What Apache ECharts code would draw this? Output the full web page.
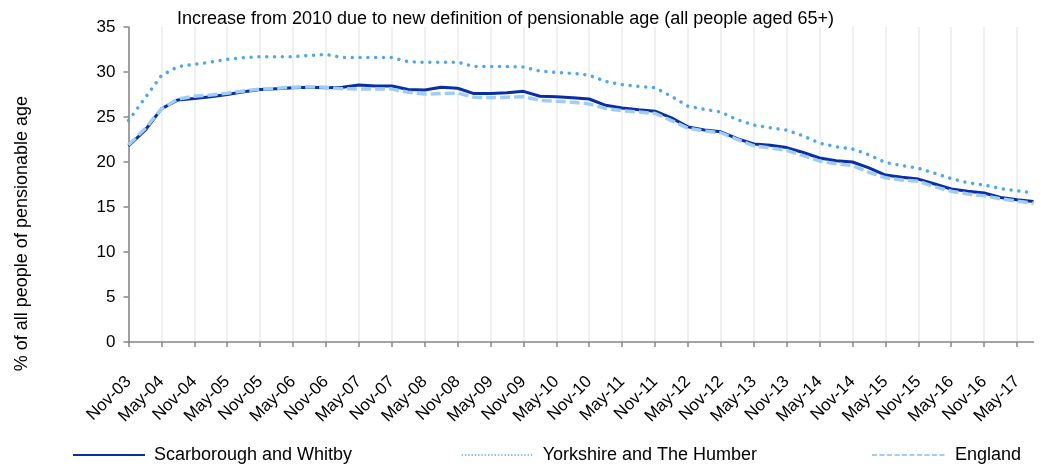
<!DOCTYPE html>
<html>
<head>
<meta charset="utf-8">
<script src="https://cdn.jsdelivr.net/npm/echarts@6/dist/echarts.min.js"></script>
<style>
html,body{margin:0;padding:0;background:#fff;}
#chart{width:1041px;height:466px;}
</style>
</head>
<body>
<div id="chart"></div>
<script>
const categories = [
  'Nov-03',
  'Feb-04','May-04','Aug-04','Nov-04',
  'Feb-05','May-05','Aug-05','Nov-05',
  'Feb-06','May-06','Aug-06','Nov-06',
  'Feb-07','May-07','Aug-07','Nov-07',
  'Feb-08','May-08','Aug-08','Nov-08',
  'Feb-09','May-09','Aug-09','Nov-09',
  'Feb-10','May-10','Aug-10','Nov-10',
  'Feb-11','May-11','Aug-11','Nov-11',
  'Feb-12','May-12','Aug-12','Nov-12',
  'Feb-13','May-13','Aug-13','Nov-13',
  'Feb-14','May-14','Aug-14','Nov-14',
  'Feb-15','May-15','Aug-15','Nov-15',
  'Feb-16','May-16','Aug-16','Nov-16',
  'Feb-17','May-17','Aug-17'
];
const scarborough = [
  21.8,
  23.5, 25.9, 26.9, 27.05,
  27.25, 27.5, 27.8, 28.05,
  28.15, 28.25, 28.3, 28.25,
  28.3, 28.55, 28.45, 28.45,
  28.05, 28.0, 28.3, 28.2,
  27.6, 27.62, 27.7, 27.85,
  27.3, 27.25, 27.15, 27.0,
  26.3, 26.0, 25.8, 25.65,
  24.9, 23.9, 23.55, 23.35,
  22.6, 22.0, 21.85, 21.6,
  21.05, 20.45, 20.15, 20.0,
  19.35, 18.55, 18.3, 18.1,
  17.55, 17.0, 16.75, 16.55,
  16.05, 15.8, 15.6
];
const yorkshire = [
  24.6,
  27.1, 29.6, 30.6, 30.85,
  31.1, 31.4, 31.6, 31.7,
  31.7, 31.7, 31.85, 31.95,
  31.6, 31.6, 31.6, 31.6,
  31.15, 31.07, 31.07, 31.1,
  30.6, 30.6, 30.6, 30.55,
  30.1, 29.95, 29.85, 29.65,
  28.95, 28.6, 28.4, 28.25,
  27.3, 26.2, 25.85, 25.55,
  24.7, 24.1, 23.8, 23.55,
  22.9, 22.1, 21.7, 21.45,
  20.8, 19.95, 19.6, 19.3,
  18.75, 18.15, 17.7, 17.45,
  17.05, 16.8, 16.55
];
const england = [
  21.9,
  23.7, 25.9, 27.0, 27.3,
  27.45, 27.65, 27.9, 28.1,
  28.2, 28.3, 28.35, 28.3,
  28.15, 28.1, 28.1, 28.1,
  27.75, 27.55, 27.6, 27.65,
  27.2, 27.15, 27.2, 27.25,
  26.85, 26.75, 26.65, 26.45,
  25.95, 25.7, 25.55, 25.4,
  24.6, 23.75, 23.45, 23.25,
  22.5, 21.8, 21.55, 21.3,
  20.7, 20.1, 19.8, 19.6,
  18.85, 18.25, 18.0, 17.85,
  17.25, 16.75, 16.45, 16.25,
  15.9, 15.65, 15.4
];
const seriesNames = ['Scarborough and Whitby', 'Yorkshire and The Humber', 'England'];
const titleText = 'Increase from 2010 due to new definition of pensionable age (all people aged 65+)';
const yAxisTitle = '% of all people of pensionable age';

const FONT = '"Liberation Sans", Arial, sans-serif';
const cDark = '#0a2ea6';
const cDot = '#4ea6f5';
const cDash = '#9fcdf7';

const chart = echarts.init(document.getElementById('chart'), null, {renderer: 'canvas'});
const legendBase = {
  orient: 'horizontal', top: 441, itemWidth: 72, itemHeight: 18, itemGap: 10,
  textStyle: {fontFamily: FONT, fontSize: 18, color: '#000', padding: [0, 0, 0, 4]},
  itemStyle: {opacity: 0},
  selectedMode: false
};
chart.setOption({
  animation: false,
  backgroundColor: '#fff',
  title: {
    text: titleText, left: 172, top: 5,
    textStyle: {fontFamily: FONT, fontSize: 18, fontWeight: 'normal', color: '#000'}
  },
  legend: [
    Object.assign({}, legendBase, {left: 67, data: [seriesNames[0]], lineStyle: {width: 2}}),
    Object.assign({}, legendBase, {left: 456, data: [seriesNames[1]], lineStyle: {width: 1.3, type: [1.3, 2], cap: 'butt'}}),
    Object.assign({}, legendBase, {left: 866, itemWidth: 74, data: [seriesNames[2]], lineStyle: {width: 2, type: [5, 2.5], cap: 'butt'}})
  ],
  graphic: [{
    type: 'text',
    left: 13, top: 96,
    rotation: Math.PI / 2,
    style: {text: yAxisTitle, font: '18px ' + FONT, fill: '#000'},
    originX: 0, originY: 0
  }],
  grid: {left: 128.5, right: 7.5, top: 27, bottom: 124, containLabel: false},
  xAxis: {
    type: 'category',
    data: categories,
    boundaryGap: false,
    axisLine: {lineStyle: {color: '#868686', width: 1.5}},
    axisTick: {show: true, interval: 1, length: 5, lineStyle: {color: '#868686', width: 1.5}},
    axisLabel: {interval: 1, rotate: 45, fontFamily: FONT, fontSize: 17, color: '#000', margin: 37},
    splitLine: {show: true, interval: 1, lineStyle: {color: '#ebebeb', width: 1.5}}
  },
  yAxis: {
    type: 'value', min: 0, max: 35, interval: 5,
    axisLine: {show: true, lineStyle: {color: '#868686', width: 1.5}},
    axisTick: {show: true, length: 5, lineStyle: {color: '#868686', width: 1.5}},
    axisLabel: {fontFamily: FONT, fontSize: 17, color: '#000', margin: 13},
    splitLine: {show: false}
  },
  series: [
    {
      name: seriesNames[0], type: 'line', data: scarborough, symbol: 'none', z: 2,
      lineStyle: {color: cDark, width: 3}, itemStyle: {color: cDark}
    },
    {
      name: seriesNames[1], type: 'line', data: yorkshire, symbol: 'none', z: 3,
      lineStyle: {color: cDot, width: 3.5, type: [0.01, 7.8], cap: 'round'}, itemStyle: {color: cDot}
    },
    {
      name: seriesNames[2], type: 'line', data: england, symbol: 'none', z: 4,
      lineStyle: {color: cDash, width: 3.5, type: [10, 4], cap: 'butt'}, itemStyle: {color: cDash}
    }
  ]
});
</script>
</body>
</html>
